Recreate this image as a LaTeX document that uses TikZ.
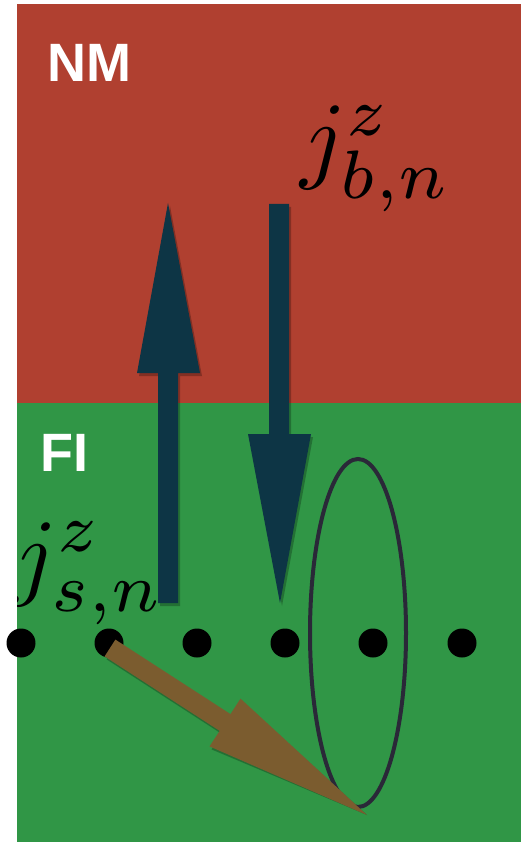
\documentclass[tikz,border=0pt]{standalone}
\usepackage{fontspec}
\newfontfamily\labfont{Liberation Sans}
\usetikzlibrary{shapes.geometric}
\definecolor{nmred}{RGB}{176,64,48}
\definecolor{figreen}{RGB}{48,150,70}
\definecolor{arrowblue}{RGB}{13,53,69}
\definecolor{arrowbrown}{RGB}{123,92,47}
\definecolor{ringcol}{RGB}{42,40,56}
\tikzset{
  layerlabel/.style={text=white,font=\labfont\bfseries\fontsize{54}{54}\selectfont,inner sep=0pt},
  mathlabel/.style={text=black,scale=9.8,inner sep=0pt},
  spindot/.style={circle,fill=black,minimum size=29pt,inner sep=0pt},
  bluearrow/.style={fill=arrowblue},
  brownarrow/.style={fill=arrowbrown},
  shadow/.style={fill=black,opacity=0.25},
  ring/.style={ellipse,draw=ringcol,line width=4pt,minimum width=96pt,minimum height=348pt,inner sep=0pt}
}
\begin{document}
\begin{tikzpicture}[x=1pt,y=-1pt]
\useasboundingbox (0,0) rectangle (521,842);
\fill[white] (0,0) rectangle (521,842);
\begin{scope}
\clip (17,4) rectangle (521,842);
\fill[nmred] (17,4) rectangle (521,403);
\fill[figreen] (17,403) rectangle (521,842);
% labels
\node[layerlabel,anchor=base west] (nm) at (47,82) {NM};
\node[layerlabel,anchor=base west] (fi) at (40,471) {FI};
\node[mathlabel,anchor=south east] (jb) at (454,214) {$j^z_{b,n}$};
\node[mathlabel,anchor=south east] (js) at (167,627) {$j^z_{s,n}$};
% up arrow (shadow + arrow)
\fill[shadow,shift={(2,3)}] (158,603) -- (158,373) -- (137,373) -- (168,203) -- (200,373) -- (178,373) -- (178,603) -- cycle;
\fill[bluearrow] (158,603) -- (158,373) -- (137,373) -- (168,203) -- (200,373) -- (178,373) -- (178,603) -- cycle;
% down arrow
\fill[shadow,shift={(2,3)}] (269,204) -- (269,434) -- (248,434) -- (280,603) -- (311,434) -- (289,434) -- (289,204) -- cycle;
\fill[bluearrow] (269,204) -- (269,434) -- (248,434) -- (280,603) -- (311,434) -- (289,434) -- (289,204) -- cycle;
\end{scope}
% spin dots
\foreach \i/\x in {1/21,2/109,3/197,4/285,5/373,6/462}
  \node[spindot] (d\i) at (\x,643) {};
% ellipse around a site
\node[ring] (cell) at (358,633) {};
% tilted spin arrow from dot 2
\coordinate (tip) at (367,815);
\fill[shadow,shift={(2,3)}] (104.6,656.4) -- (219.7,730.9) -- (209.5,746.4) -- (tip) -- (240.5,698.6) -- (230.5,714.1) -- (115.4,639.6) -- cycle;
\fill[brownarrow] (104.6,656.4) -- (219.7,730.9) -- (209.5,746.4) -- (tip) -- (240.5,698.6) -- (230.5,714.1) -- (115.4,639.6) -- cycle;
\end{tikzpicture}
\end{document}
